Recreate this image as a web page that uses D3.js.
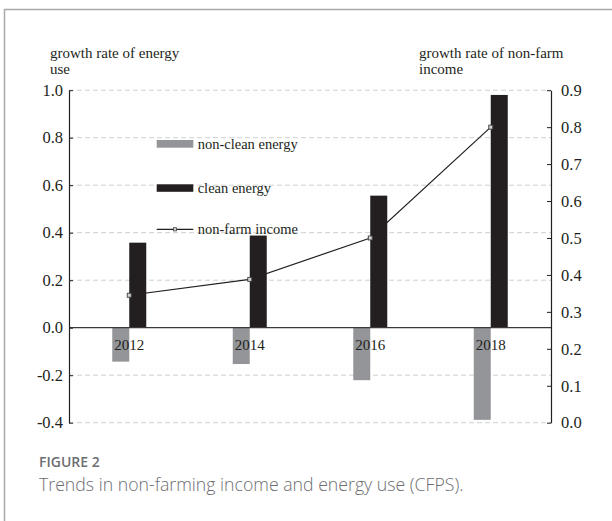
<!DOCTYPE html>
<html>
<head>
<meta charset="utf-8">
<script src="https://cdn.jsdelivr.net/npm/d3@7/dist/d3.min.js"></script>
<style>
  html, body { margin: 0; padding: 0; background: #fff; }
  svg { display: block; }
</style>
</head>
<body>
<svg id="chart" width="612" height="521"></svg>
<script>
// ---- data ----
const years = ["2012", "2014", "2016", "2018"];
const nonCleanEnergy = [-0.143, -0.153, -0.221, -0.388];
const cleanEnergy = [0.358, 0.388, 0.556, 0.98];
const nonFarmIncome = [0.345, 0.388, 0.50, 0.80];
const leftTicks = [-0.4, -0.2, 0.0, 0.2, 0.4, 0.6, 0.8, 1.0];
const rightTicks = [0.0, 0.1, 0.2, 0.3, 0.4, 0.5, 0.6, 0.7, 0.8, 0.9];
const seriesNames = ["non-clean energy", "clean energy", "non-farm income"];

const svg = d3.select("#chart");
const serif = "'Liberation Serif', 'Times New Roman', serif";
const ink = "#231f20";
const grayBar = "#939598";

// frame
svg.append("path")
  .attr("d", "M4.5,521 L4.5,9.5 L612,9.5")
  .attr("fill", "none").attr("stroke", "#a7a9ac").attr("stroke-width", 1.5);

const L = 69, R = 551, T = 90.2, B = 422.7;
const x = d3.scaleBand().domain(years).range([L, R]);
const sub = d3.scaleBand().domain(["non-clean", "clean"]).range([-17, 17]);
const yL = d3.scaleLinear().domain([-0.4, 1.0]).range([B, T]);
const yR = d3.scaleLinear().domain([0, 0.9]).range([B, T]);
const fmt = d => d.toFixed(1);

// grid
svg.append("g").selectAll("line").data(leftTicks.filter(d => d !== 0)).join("line")
  .attr("x1", L).attr("x2", R)
  .attr("y1", d => yL(d)).attr("y2", d => yL(d))
  .attr("stroke", "#cfd0d2").attr("stroke-width", 1).attr("stroke-dasharray", "5,3");

// bars
const cx = y => x(y) + x.bandwidth() / 2;
svg.append("g").selectAll("rect").data(years).join("rect")
  .attr("x", d => cx(d) + sub("non-clean"))
  .attr("width", sub.bandwidth())
  .attr("y", (d, i) => yL(Math.max(0, nonCleanEnergy[i])))
  .attr("height", (d, i) => Math.abs(yL(nonCleanEnergy[i]) - yL(0)))
  .attr("fill", grayBar);
svg.append("g").selectAll("rect").data(years).join("rect")
  .attr("x", d => cx(d) + sub("clean"))
  .attr("width", sub.bandwidth())
  .attr("y", (d, i) => yL(cleanEnergy[i]))
  .attr("height", (d, i) => yL(0) - yL(cleanEnergy[i]))
  .attr("fill", ink);

// zero line
svg.append("line").attr("x1", L).attr("x2", R)
  .attr("y1", yL(0)).attr("y2", yL(0))
  .attr("stroke", "#3a3a3a").attr("stroke-width", 1.3);

// year labels
svg.append("g").selectAll("text").data(years).join("text")
  .attr("x", d => cx(d)).attr("y", yL(0) + 22)
  .attr("text-anchor", "middle")
  .style("font-family", serif).style("font-size", "15px").attr("fill", ink)
  .text(d => d);

// axes
const gl = svg.append("g").attr("transform", `translate(${L},0)`)
  .call(d3.axisLeft(yL).tickValues(leftTicks).tickFormat(fmt).tickSize(-4).tickSizeOuter(0).tickPadding(6));
const gr = svg.append("g").attr("transform", `translate(${R},0)`)
  .call(d3.axisRight(yR).tickValues(rightTicks).tickFormat(fmt).tickSize(-4).tickSizeOuter(0).tickPadding(10));
[gl, gr].forEach(g => {
  g.attr("font-family", null).attr("font-size", null);
  g.selectAll("path.domain").attr("stroke", ink).attr("stroke-width", 1.2);
  g.selectAll(".tick line").attr("stroke", ink).attr("stroke-width", 1);
  g.selectAll(".tick text")
    .style("font-family", serif).style("font-size", "16.5px").attr("fill", ink);
});

// line series
const line = d3.line().x(d => cx(d[0])).y(d => yR(d[1]));
const pts = years.map((y, i) => [y, nonFarmIncome[i]]);
svg.append("path").datum(pts).attr("d", line)
  .attr("fill", "none").attr("stroke", ink).attr("stroke-width", 1.2);
svg.append("g").selectAll("rect").data(pts).join("rect")
  .attr("x", d => cx(d[0]) - 2).attr("y", d => yR(d[1]) - 2)
  .attr("width", 4).attr("height", 4)
  .attr("fill", "#d1d3d4").attr("stroke", "#414042").attr("stroke-width", 0.9);

// axis titles
const titleL = svg.append("text").style("font-family", serif).style("font-size", "15px").attr("fill", ink);
titleL.append("tspan").attr("x", 50).attr("y", 58).text("growth rate of energy");
titleL.append("tspan").attr("x", 50).attr("y", 74).text("use");
const titleR = svg.append("text").style("font-family", serif).style("font-size", "15px").attr("fill", ink);
titleR.append("tspan").attr("x", 419).attr("y", 58).text("growth rate of non-farm");
titleR.append("tspan").attr("x", 419).attr("y", 74).text("income");

// legend
const lx = 156.7, lw = 36.6;
const lg = svg.append("g");
lg.append("rect").attr("x", lx).attr("y", 140).attr("width", lw).attr("height", 7.7).attr("fill", grayBar);
lg.append("rect").attr("x", lx).attr("y", 184.3).attr("width", lw).attr("height", 7.5).attr("fill", ink);
lg.append("line").attr("x1", lx).attr("x2", lx + lw).attr("y1", 229.3).attr("y2", 229.3)
  .attr("stroke", ink).attr("stroke-width", 1.2);
lg.append("rect").attr("x", lx + lw / 2 - 1.6).attr("y", 229.3 - 1.6).attr("width", 3.2).attr("height", 3.2)
  .attr("fill", "#d1d3d4").attr("stroke", "#414042").attr("stroke-width", 0.8);
lg.selectAll("text").data(seriesNames).join("text")
  .attr("x", 197.7).attr("y", (d, i) => [148.5, 192.5, 234][i])
  .style("font-family", serif).style("font-size", "14.5px").attr("fill", ink)
  .text(d => d);

// caption
svg.append("text").attr("x", 39).attr("y", 467)
  .style("font-family", "'Open Sans', sans-serif").style("font-size", "14px").attr("font-weight", 600)
  .attr("fill", "#6d6e71").text("FIGURE 2");
svg.append("text").attr("x", 39).attr("y", 491)
  .style("font-family", "'Open Sans', sans-serif").style("font-size", "17.7px").attr("font-weight", 300)
  .attr("fill", "#6d6e71").text("Trends in non-farming income and energy use (CFPS).");
</script>
</body>
</html>
